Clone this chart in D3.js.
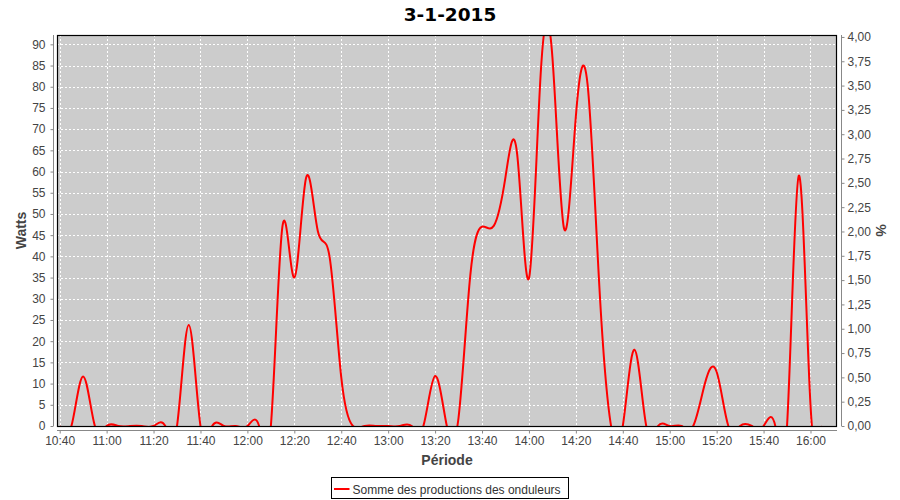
<!DOCTYPE html>
<html>
<head>
<meta charset="utf-8">
<script src="https://cdn.jsdelivr.net/npm/d3@7"></script>
<style>
  html, body { margin: 0; padding: 0; background: #fff; }
  svg { display: block; }
</style>
</head>
<body>
<svg id="chart" width="900" height="500"></svg>
<script>
const title = "3-1-2015";
const times = [
  "10:40","10:45","10:50","10:55","11:00","11:05","11:10","11:15","11:20","11:25",
  "11:30","11:35","11:40","11:45","11:50","11:55","12:00","12:05","12:10","12:15",
  "12:20","12:25","12:30","12:35","12:40","12:45","12:50","12:55","13:00","13:05",
  "13:10","13:15","13:20","13:25","13:30","13:35","13:40","13:45","13:50","13:55",
  "14:00","14:05","14:10","14:15","14:20","14:25","14:30","14:35","14:40","14:45",
  "14:50","14:55","15:00","15:05","15:10","15:15","15:20","15:25","15:30","15:35",
  "15:40","15:45","15:50","15:55","16:00","16:05"
];
const watts = [
  0, 0, 11.7, 0, 0, 0, 0, 0, 0, 0,
  0, 23.8, 0, 0, 0, 0, 0, 0, 0, 47.3,
  35, 58.5, 46, 40, 11.5, 0, 0, 0, 0, 0,
  0, 0, 11.8, 0, 2, 35.5, 47, 47.2, 58.7, 64,
  34.8, 83, 87, 46.5, 73, 80.5, 33, 0, 0, 18,
  0, 0, 0, 0, 0, 10, 12.8, 0, 0, 0,
  0, 0, 0, 59, 5, 0
];
const xTickLabels = ["10:40","11:00","11:20","11:40","12:00","12:20","12:40","13:00","13:20","13:40","14:00","14:20","14:40","15:00","15:20","15:40","16:00"];
const leftTicks = [0,5,10,15,20,25,30,35,40,45,50,55,60,65,70,75,80,85,90];
const rightTicks = [0,0.25,0.5,0.75,1,1.25,1.5,1.75,2,2.25,2.5,2.75,3,3.25,3.5,3.75,4];
const seriesName = "Somme des productions des onduleurs";
const xLabel = "Période", yLabel = "Watts", y2Label = "%";

const parseT = s => { const [h, m] = s.split(":").map(Number); return new Date(2015, 0, 3, h, m, 0); };
const data = times.map((t, i) => ({ t: parseT(t), v: watts[i] }));

const svg = d3.select("#chart");
const P = { left: 57, right: 837, top: 35, bottom: 426 };

const x = d3.scaleTime()
  .domain([new Date(2015,0,3,10,38,51), new Date(2015,0,3,16,11,18)])
  .range([P.left, P.right]);
const y = d3.scaleLinear().domain([0, 92.2]).range([P.bottom, P.top]);
const y2 = d3.scaleLinear().domain([0, 4.02]).range([P.bottom, P.top]);

const tickFont = "'Liberation Sans', Arial, sans-serif";

// title
svg.append("text").attr("x", 450).attr("y", 20.5).attr("text-anchor", "middle")
  .attr("font-family", "'DejaVu Sans', sans-serif").attr("font-weight", "bold")
  .attr("font-size", "18.5px").attr("fill", "#000").text(title);

// plot background
svg.append("rect").attr("x", P.left).attr("y", P.top)
  .attr("width", P.right - P.left).attr("height", P.bottom - P.top).attr("fill", "#cccccc");

// grid
const grid = svg.append("g");
leftTicks.forEach(v => {
  grid.append("line").attr("x1", P.left).attr("x2", P.right)
    .attr("y1", Math.round(y(v)) + 0.5).attr("y2", Math.round(y(v)) + 0.5)
    .attr("stroke", "#fff").attr("stroke-width", 1).attr("stroke-dasharray", "2,2");
});
xTickLabels.forEach(s => {
  const xx = Math.round(x(parseT(s))) + 0.5;
  grid.append("line").attr("x1", xx).attr("x2", xx).attr("y1", P.top).attr("y2", P.bottom)
    .attr("stroke", "#fff").attr("stroke-width", 1).attr("stroke-dasharray", "2,2");
});

// clip + line
svg.append("clipPath").attr("id", "clip").append("rect")
  .attr("x", P.left).attr("y", P.top).attr("width", P.right - P.left).attr("height", P.bottom - P.top);
const line = d3.line().x(d => x(d.t)).y(d => y(d.v)).curve(d3.curveNatural);
svg.append("path").datum(data).attr("clip-path", "url(#clip)")
  .attr("d", line).attr("fill", "none").attr("stroke", "#ff0000").attr("stroke-width", 2);

// plot outline
svg.append("rect").attr("x", P.left + 0.5).attr("y", P.top + 0.5)
  .attr("width", P.right - P.left - 1).attr("height", P.bottom - P.top)
  .attr("fill", "none").attr("stroke", "#000").attr("stroke-width", 1.2);

// left axis
const yAxis = d3.axisLeft(y).tickValues(leftTicks).tickSize(3).tickPadding(5).tickFormat(d3.format("d"));
const gy = svg.append("g").attr("transform", "translate(53.5,0)").call(yAxis);
// right axis
const fmt2 = v => d3.format(".2f")(v).replace(".", ",");
const y2Axis = d3.axisRight(y2).tickValues(rightTicks).tickSize(3).tickPadding(3).tickFormat(fmt2);
const gy2 = svg.append("g").attr("transform", "translate(841.5,0)").call(y2Axis);
// bottom axis
const xAxis = d3.axisBottom(x).tickValues(xTickLabels.map(parseT)).tickSize(3).tickPadding(3)
  .tickFormat(d3.timeFormat("%H:%M"));
const gx = svg.append("g").attr("transform", "translate(0,430.5)").call(xAxis);

[gy, gy2, gx].forEach(g => {
  g.select(".domain").attr("stroke", "#888");
  g.selectAll(".tick line").attr("stroke", "#888");
  g.selectAll("text").attr("font-family", tickFont).attr("font-size", "12px").attr("fill", "#444");
});
gy.select(".domain").attr("d", `M0,${P.top}V${P.bottom}`);
gy2.select(".domain").attr("d", `M0,${P.top}V${P.bottom}`);
gx.select(".domain").attr("d", `M${P.left},0H${P.right}`);
gx.selectAll("text").attr("dy", "0.71em");

// axis labels
svg.append("text").attr("transform", "translate(26,230.5) rotate(-90)").attr("text-anchor", "middle")
  .attr("font-family", tickFont).attr("font-weight", "bold").attr("font-size", "14px").attr("fill", "#444")
  .text(yLabel);
svg.append("text").attr("transform", "translate(876,230.5) rotate(90)").attr("text-anchor", "middle")
  .attr("font-family", tickFont).attr("font-weight", "bold").attr("font-size", "14px").attr("fill", "#444")
  .text(y2Label);
svg.append("text").attr("x", 447).attr("y", 464.5).attr("text-anchor", "middle")
  .attr("font-family", tickFont).attr("font-weight", "bold").attr("font-size", "14px").attr("fill", "#444")
  .text(xLabel);

// legend
const lg = svg.append("g");
lg.append("rect").attr("x", 331.5).attr("y", 477.5).attr("width", 237).attr("height", 21)
  .attr("fill", "#fff").attr("stroke", "#000").attr("stroke-width", 1);
lg.append("line").attr("x1", 334).attr("x2", 349.5).attr("y1", 489).attr("y2", 489)
  .attr("stroke", "#ff0000").attr("stroke-width", 2);
lg.append("text").attr("x", 352.5).attr("y", 493.5).attr("font-family", tickFont)
  .attr("font-size", "12px").attr("fill", "#333").text(seriesName);
</script>
</body>
</html>
